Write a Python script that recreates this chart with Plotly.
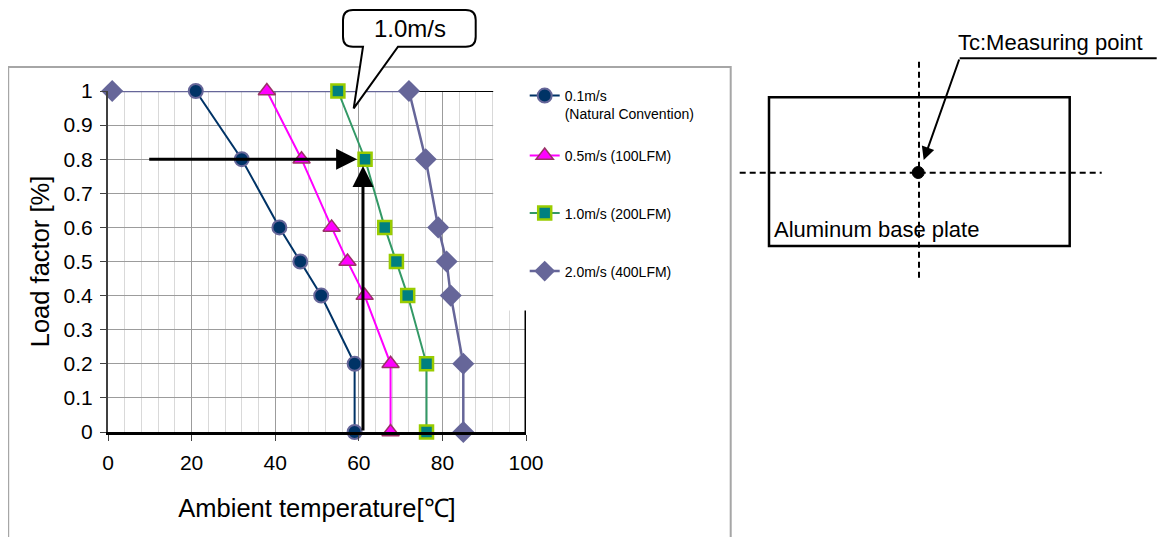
import plotly.graph_objects as go

# ---------------- data ----------------
series_names = ["0.1m/s<br>(Natural Convention)", "0.5m/s (100LFM)", "1.0m/s (200LFM)", "2.0m/s (400LFM)"]
load_01 = [1, 0.8, 0.6, 0.5, 0.4, 0.2, 0]
temp_01 = [21, 32, 41, 46, 51, 59, 59]
load_05 = [1, 0.8, 0.6, 0.5, 0.4, 0.2, 0]
temp_05 = [38, 46.3, 53.5, 57.3, 61.4, 67.6, 67.6]
load_10 = [1, 0.8, 0.6, 0.5, 0.4, 0.2, 0]
temp_10 = [55, 61.5, 66.2, 69, 71.7, 76.2, 76.2]
load_20 = [1, 1, 0.8, 0.6, 0.5, 0.4, 0.2, 0]
temp_20 = [1, 72, 76, 79, 81, 82, 85, 85]
x_ticks = [0, 20, 40, 60, 80, 100]
y_ticks = [0, 0.1, 0.2, 0.3, 0.4, 0.5, 0.6, 0.7, 0.8, 0.9, 1]
callout_text = "1.0m/s"
arrow_h = dict(x_from=9.5, x_to=59.6, load=0.8)
arrow_v = dict(temp=61, y_from=0.0, y_to=0.78)

FONT = "Liberation Sans, Arial, sans-serif"
OFF = 8                      # page body margin in the browser
FIG_W, FIG_H = 1165 - OFF, 537 - OFF
# plot area in screen pixels
SX0, SX1, SY0, SY1 = 108.3, 526.3, 91.0, 432.0
L = SX0 - OFF
T = SY0 - OFF
R = FIG_W - (SX1 - OFF)
B = FIG_H - (SY1 - OFF)
PW = SX1 - SX0
PH = SY1 - SY0


def px(x):
    return (x - SX0) / PW


def py(y):
    return (SY1 - y) / PH


fig = go.Figure()

fig.add_trace(go.Scatter(
    x=temp_20, y=load_20, name=series_names[3], mode="lines+markers", legend="legend4",
    line=dict(color="#666699", width=2.5),
    marker=dict(symbol="diamond", size=17, color="#666699"), cliponaxis=False))
fig.add_trace(go.Scatter(
    x=temp_01, y=load_01, name=series_names[0], mode="lines+markers", legend="legend",
    line=dict(color="#003366", width=2),
    marker=dict(symbol="circle", size=14, color="#003366", line=dict(color="#666699", width=2)),
    cliponaxis=False))
fig.add_trace(go.Scatter(
    x=temp_05, y=load_05, name=series_names[1], mode="lines+markers", legend="legend2",
    line=dict(color="#FF00FF", width=2),
    marker=dict(symbol="triangle-up", size=15, color="#FF00FF", line=dict(color="#993366", width=1.5)),
    cliponaxis=False))
fig.add_trace(go.Scatter(
    x=temp_10, y=load_10, name=series_names[2], mode="lines+markers", legend="legend3",
    line=dict(color="#339966", width=2),
    marker=dict(symbol="square", size=13, color="#008080", line=dict(color="#99CC00", width=2.5)),
    cliponaxis=False))

shapes = []
# plot border lines (drawn between grid and traces)
shapes.append(dict(type="line", xref="x", yref="y", x0=0, x1=100, y0=1, y1=1,
                   line=dict(color="black", width=2), layer="between"))
shapes.append(dict(type="line", xref="x", yref="y", x0=100, x1=100, y0=0, y1=1,
                   line=dict(color="black", width=3), layer="between"))
# white area behind legend
shapes.append(dict(type="rect", xref="paper", yref="paper", x0=px(493.5), x1=px(730), y0=py(310.5), y1=py(68.5),
                   fillcolor="white", line=dict(width=0), layer="above"))
# chart frame
shapes.append(dict(type="rect", xref="paper", yref="paper", x0=px(8.5), x1=px(731), y0=py(67), y1=py(545),
                   fillcolor="rgba(0,0,0,0)", line=dict(color="#a6a6a6", width=2), layer="above"))


# callout balloon
def P(x, y):
    return f"{px(x):.5f},{py(y):.5f}"


bx0, bx1, by0, by1, rr = 343.3, 476, 10, 46.7, 10
path = (f"M{P(bx0+rr, by0)} L{P(bx1-rr, by0)} Q{P(bx1, by0)} {P(bx1, by0+rr)} "
        f"L{P(bx1, by1-rr)} Q{P(bx1, by1)} {P(bx1-rr, by1)} L{P(398.3, by1)} L{P(354, 108.3)} "
        f"L{P(363.3, by1)} L{P(bx0+rr, by1)} Q{P(bx0, by1)} {P(bx0, by1-rr)} L{P(bx0, by0+rr)} "
        f"Q{P(bx0, by0)} {P(bx0+rr, by0)} Z")
shapes.append(dict(type="path", xref="paper", yref="paper", path=path, fillcolor="white",
                   line=dict(color="black", width=2), layer="above"))

# right side diagram
shapes.append(dict(type="rect", xref="paper", yref="paper", x0=px(769.3), x1=px(1070), y0=py(246), y1=py(97.3),
                   line=dict(color="black", width=2.5), fillcolor="rgba(0,0,0,0)"))
shapes.append(dict(type="line", xref="paper", yref="paper", x0=px(740), x1=px(1102), y0=py(172.7), y1=py(172.7),
                   line=dict(color="black", width=2, dash="6px,4px")))
shapes.append(dict(type="line", xref="paper", yref="paper", x0=px(919.3), x1=px(919.3), y0=py(61.7), y1=py(281),
                   line=dict(color="black", width=2, dash="6px,4px")))
shapes.append(dict(type="circle", xref="paper", yref="paper", x0=px(912.5), x1=px(924.5), y0=py(178.5), y1=py(166.5),
                   fillcolor="black", line=dict(color="black", width=1)))
shapes.append(dict(type="line", xref="paper", yref="paper", x0=px(960), x1=px(1157), y0=py(58.3), y1=py(58.3),
                   line=dict(color="black", width=2)))

annotations = [
    dict(xref="paper", yref="paper", x=px(410), y=py(29), xanchor="center", yanchor="middle",
         text=callout_text, showarrow=False, font=dict(family=FONT, size=24, color="black")),
    dict(xref="x", yref="y", axref="x", ayref="y", x=arrow_h["x_to"], y=arrow_h["load"],
         ax=arrow_h["x_from"], ay=arrow_h["load"], text="", showarrow=True,
         arrowhead=2, arrowsize=1.4, arrowwidth=3, arrowcolor="black"),
    dict(xref="x", yref="y", axref="x", ayref="y", x=arrow_v["temp"], y=arrow_v["y_to"],
         ax=arrow_v["temp"], ay=arrow_v["y_from"], text="", showarrow=True,
         arrowhead=2, arrowsize=1.4, arrowwidth=3, arrowcolor="black"),
    dict(xref="paper", yref="paper", x=px(1051), y=py(43), xanchor="center", yanchor="middle",
         text="Tc:Measuring point", showarrow=False, font=dict(family=FONT, size=22, color="black")),
    dict(xref="paper", yref="paper", x=px(772.5), y=py(229.5), xanchor="left", yanchor="middle",
         text="Aluminum base plate", showarrow=False, font=dict(family=FONT, size=22, color="black")),
    dict(xref="paper", yref="paper", x=px(924), y=py(160), ax=36, ay=-102, axref="pixel", ayref="pixel",
         text="", showarrow=True, arrowhead=2, arrowsize=1.3, arrowwidth=2, arrowcolor="black"),
]

leg_common = dict(font=dict(family=FONT, size=14, color="black"), bgcolor="rgba(0,0,0,0)",
                  xanchor="left", yanchor="top", valign="top", x=px(525), borderwidth=0)

fig.update_layout(
    width=FIG_W, height=FIG_H,
    margin=dict(l=L, r=R, t=T, b=B, autoexpand=False),
    paper_bgcolor="white", plot_bgcolor="white",
    font=dict(family=FONT, color="black"),
    showlegend=True,
    legend=dict(**leg_common, y=py(80)),
    legend2=dict(**leg_common, y=py(140)),
    legend3=dict(**leg_common, y=py(197.5)),
    legend4=dict(**leg_common, y=py(255.5)),
    shapes=shapes, annotations=annotations,
    xaxis=dict(range=[0, 100], tickvals=x_ticks, showgrid=True, gridcolor="#9c9c9c", gridwidth=1,
               minor=dict(dtick=4, showgrid=True, gridcolor="#d9d9d9", gridwidth=1),
               zeroline=False, showline=True, linecolor="black", linewidth=3,
               ticks="outside", ticklen=6, tickwidth=1, tickcolor="#404040",
               tickfont=dict(family=FONT, size=21, color="black"), ticklabelstandoff=4,
               title=dict(text="Ambient temperature[℃]", font=dict(family=FONT, size=25.5, color="black"), standoff=26),
               fixedrange=True),
    yaxis=dict(range=[0, 1], tickvals=y_ticks, ticktext=[f"{v:g}" for v in y_ticks],
               showgrid=True, gridcolor="#9c9c9c", gridwidth=1,
               zeroline=False, showline=True, linecolor="#404040", linewidth=2,
               ticks="outside", ticklen=6, tickwidth=1, tickcolor="#404040",
               tickfont=dict(family=FONT, size=21, color="black"), ticklabelstandoff=3,
               title=dict(text="Load factor [%]", font=dict(family=FONT, size=25.5, color="black"), standoff=7),
               fixedrange=True),
)

fig.write_html("out.html")
